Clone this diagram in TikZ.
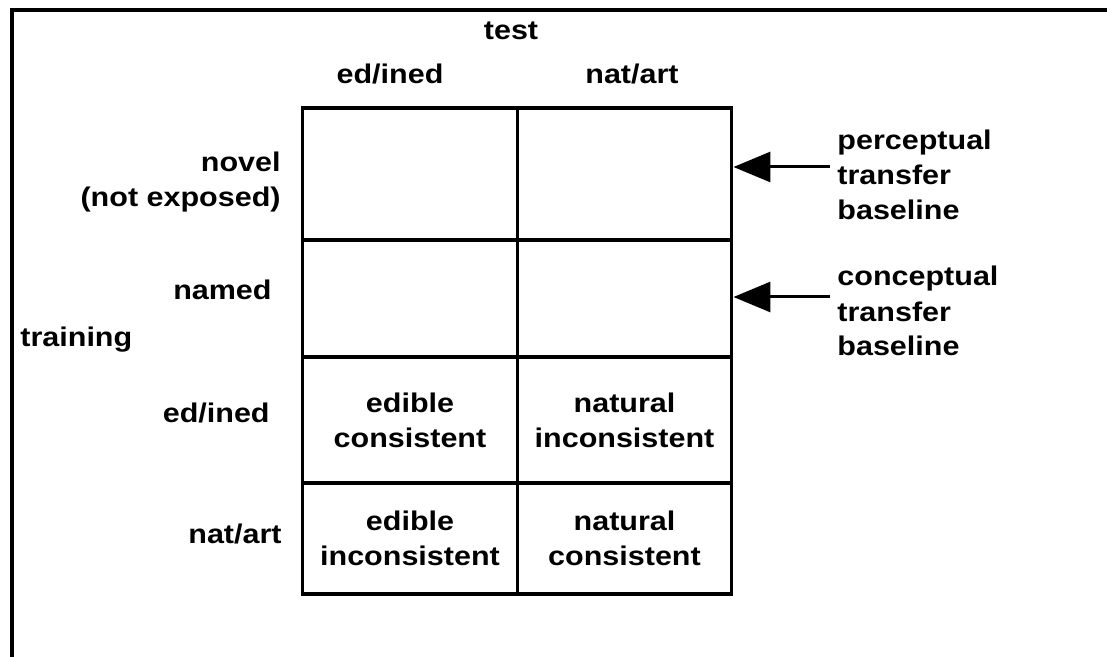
\documentclass[tikz,border=0pt]{standalone}
\usepackage{fontspec}
\setmainfont{Liberation Sans}[FakeStretch=1.13]
\usetikzlibrary{arrows.meta,positioning}
\tikzset{lbl/.style={inner sep=0pt,font=\bfseries\fontsize{13.5}{17.5}\selectfont}}
\tikzset{cell/.style={rectangle,draw=black,line width=1.7pt,minimum width=107.25pt,inner sep=0pt,align=center,lbl}}
\tikzset{toArrow/.style={-{Triangle[length=18.5pt,width=15pt]},line width=1.5pt}}
\tikzset{frame/.style={line width=2pt}}

\begin{document}
\begin{tikzpicture}[x=0.5pt,y=-0.5pt]
\useasboundingbox (0,0) rectangle (1107,657);
\draw[frame] (12,657) -- (12,10) -- (1107,10);
\node (c11) [cell, minimum height=66pt] at (410,174) {};
\node (c12) [cell, minimum height=66pt] at (624.5,174) {};
\node (c21) [cell, minimum height=58.5pt] at (410,298.5) {};
\node (c22) [cell, minimum height=58.5pt] at (624.5,298.5) {};
\node (c31) [cell, minimum height=63pt] at (410,420) {edible\\consistent};
\node (c32) [cell, minimum height=63pt] at (624.5,420) {natural\\inconsistent};
\node (c41) [cell, minimum height=55.5pt] at (410,538.5) {edible\\inconsistent};
\node (c42) [cell, minimum height=55.5pt] at (624.5,538.5) {natural\\consistent};
\node (test) [lbl, anchor=base] at (511,40) {test};
\node (hed) [lbl, anchor=base] at (390,84) {ed/ined};
\node (hnat) [lbl, anchor=base] at (632,84) {nat/art};
\node (novel) [lbl, anchor=base east, align=right] at (281,207) {novel\\(not exposed)};
\node (named) [lbl, anchor=base east] at (272,300) {named};
\node (training) [lbl, anchor=base west] at (20,347) {training};
\node (red) [lbl, anchor=base east] at (270,422) {ed/ined};
\node (rnat) [lbl, anchor=base east] at (282,543) {nat/art};
\node (percep) [lbl, anchor=base west, align=left] at (837,220) {perceptual\\transfer\\baseline};
\node (concep) [lbl, anchor=base west, align=left] at (837,356) {conceptual\\transfer\\baseline};
\coordinate (ptail) at (830,167);
\coordinate (ctail) at (830,297);
\draw[toArrow] (ptail) -- (ptail -| c12.east);
\draw[toArrow] (ctail) -- (ctail -| c22.east);
\end{tikzpicture}
\end{document}
